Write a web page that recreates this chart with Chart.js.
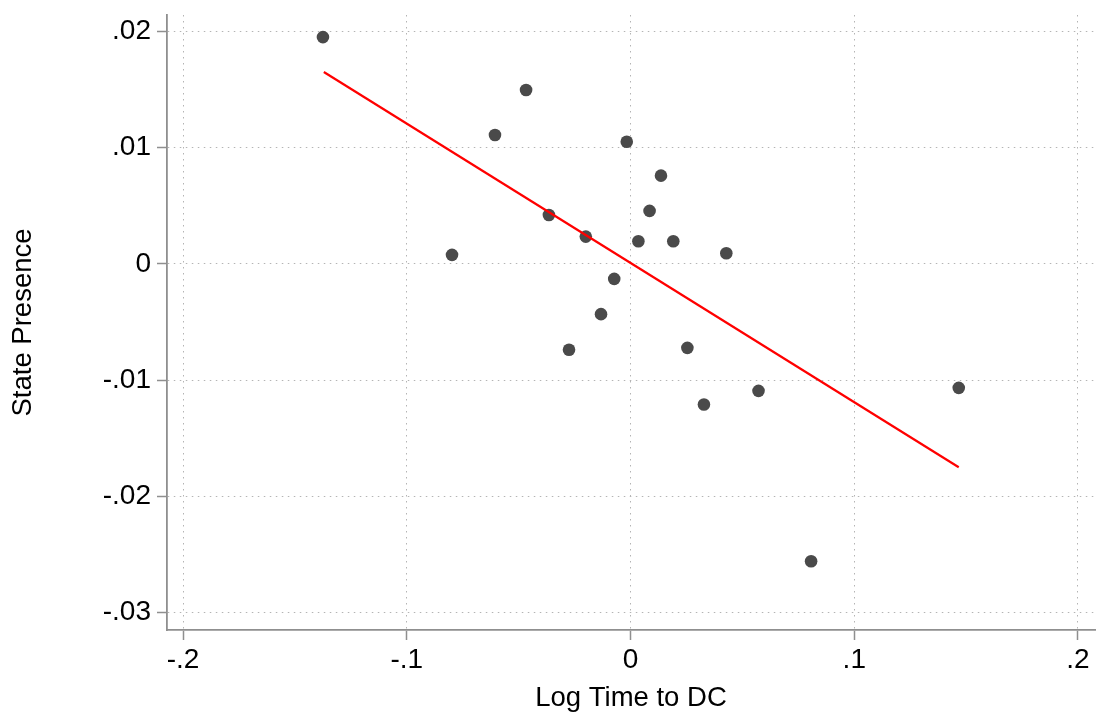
<!DOCTYPE html>
<html>
<head>
<meta charset="utf-8">
<script src="https://cdn.jsdelivr.net/npm/chart.js@4.4.1/dist/chart.umd.min.js"></script>
<style>
  html, body { margin: 0; padding: 0; background: #fff; }
  #wrap { width: 1097px; height: 715px; }
</style>
</head>
<body>
<div id="wrap"><canvas id="myChart" width="1097" height="715"></canvas></div>
<script>
// scatter points
const logTime = [-0.1375, -0.0798, -0.0606, -0.0467, -0.0365, -0.0275, -0.0200, -0.0132, -0.0073, -0.0017,
  0.0035, 0.0085, 0.0136, 0.0191, 0.0254, 0.0328, 0.0428, 0.0572, 0.0807, 0.1467];
const statePresence = [0.0195, 0.00077, 0.01108, 0.01495, 0.00420, -0.00740, 0.00234, -0.00433, -0.00130, 0.01050,
  0.00194, 0.00455, 0.00758, 0.00194, -0.00723, -0.01210, 0.00091, -0.01093, -0.02558, -0.01067];

// fitted line end points
const fitX = [-0.1371, 0.1467];
const fitY = [0.0165, -0.0175];

const xTicks = [-0.2, -0.1, 0, 0.1, 0.2];
const yTicks = [-0.03, -0.02, -0.01, 0, 0.01, 0.02];

const fmt = v => {
    if (Math.abs(v) < 1e-9) return "0";
    let s = String(+v.toFixed(3));
    return s.replace("0.", ".");
};

const scatterPts = logTime.map((x, i) => ({ x: x, y: statePresence[i] }));
const linePts = fitX.map((x, i) => ({ x: x, y: fitY[i] }));

const fontFam = "'Liberation Sans', Arial, Helvetica, sans-serif";
const axisGray = "#8f8f8f";
const gridGray = "#b4b4b4";

// no extra room for overhanging labels, the chart area is fixed by the layout padding
const noPad = (axis) => {
    axis.paddingLeft = 0;
    axis.paddingRight = 0;
    axis.paddingTop = 0;
    axis.paddingBottom = 0;
};

const ctx = document.getElementById('myChart').getContext('2d');

const myChart = new Chart(ctx, {
    type: 'scatter',
    data: {
        datasets: [
            {
                label: 'fit',
                data: linePts,
                showLine: true,
                borderColor: '#ff0000',
                borderWidth: 2.2,
                pointRadius: 0,
                order: 0
            },
            {
                label: 'State Presence',
                data: scatterPts,
                backgroundColor: '#4a4a4a',
                borderWidth: 0,
                pointRadius: 6.3,
                order: 1
            }
        ]
    },
    options: {
        responsive: false,
        animation: false,
        layout: { autoPadding: false, padding: { left: 0, right: 2, top: 15, bottom: 0 } },
        plugins: {
            legend: { display: false },
            tooltip: { enabled: false }
        },
        scales: {
            x: {
                type: 'linear',
                min: -0.2072,
                max: 0.2076,
                afterBuildTicks: (axis) => { axis.ticks = xTicks.map(v => ({ value: v })); },
                afterFit: (axis) => { axis.height = 85; noPad(axis); },
                ticks: {
                    color: '#000',
                    font: { family: fontFam, size: 28 },
                    padding: 3,
                    maxRotation: 0,
                    callback: v => fmt(v)
                },
                grid: {
                    color: gridGray,
                    lineWidth: 1,
                    tickColor: axisGray,
                    tickLength: 10,
                    tickWidth: 1.5,
                    tickBorderDash: []
                },
                border: { color: axisGray, width: 1.8, dash: [1.5, 4.5] },
                title: {
                    display: true,
                    text: 'Log Time to DC',
                    color: '#000',
                    font: { family: fontFam, size: 27.5 },
                    padding: { top: 0, bottom: 0 }
                }
            },
            y: {
                type: 'linear',
                min: -0.0315,
                max: 0.0214,
                afterBuildTicks: (axis) => { axis.ticks = yTicks.map(v => ({ value: v })); },
                afterFit: (axis) => { axis.width = 167; noPad(axis); },
                ticks: {
                    color: '#000',
                    font: { family: fontFam, size: 28 },
                    padding: 6,
                    callback: v => fmt(v)
                },
                grid: {
                    color: gridGray,
                    lineWidth: 1,
                    tickColor: axisGray,
                    tickLength: 10,
                    tickWidth: 1.5,
                    tickBorderDash: []
                },
                border: { color: axisGray, width: 1.8, dash: [1.5, 4.5] },
                title: {
                    display: true,
                    text: 'State Presence',
                    color: '#000',
                    font: { family: fontFam, size: 27.5 },
                    padding: { top: 7, bottom: 0 }
                }
            }
        }
    }
});
</script>
</body>
</html>
